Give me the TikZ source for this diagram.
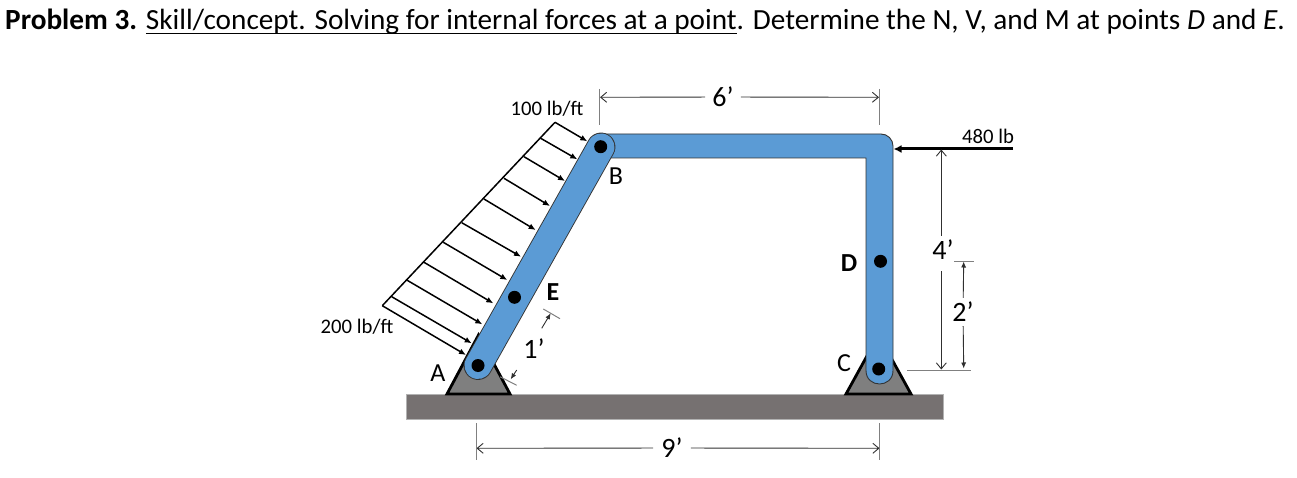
\documentclass[tikz,border=0pt]{standalone}
\usepackage{fontspec}
\usepackage{tikz}
\usetikzlibrary{arrows.meta}
\setmainfont{Carlito}
\definecolor{barblue}{HTML}{5B9BD5}
\definecolor{groundgray}{HTML}{767171}
\definecolor{supportgray}{HTML}{7F7F7F}
\definecolor{dimgray}{HTML}{303030}
\newcommand{\ruledtext}[1]{\setbox0=\hbox{#1}\rlap{\rule[-4.2pt]{\wd0}{1.3pt}}\box0}
\tikzstyle{barshape}=[draw=black!80, line width=.9pt, fill=barblue]
\tikzstyle{barline}=[draw=black!80, line width=.9pt, double=barblue, double distance=27pt, line cap=round]
\tikzstyle{support}=[draw=black, line width=2.8pt, fill=supportgray, line join=miter]
\tikzstyle{pinpoint}=[circle, fill=black, inner sep=0pt, minimum size=13pt]
\tikzstyle{loadarrow}=[draw=black, line width=1.5pt, -{Latex[length=7pt,width=6pt]}]
\tikzstyle{dimline}=[draw=dimgray, line width=.9pt, -{Straight Barb[length=6pt,width=10pt]}]
\tikzstyle{dimsmall}=[draw=dimgray, line width=.9pt, -{Latex[length=6pt,width=5pt]}]
\tikzstyle{dimtick}=[draw=gray, line width=1pt]
\tikzstyle{lbl}=[inner sep=0pt, font=\fontsize{20.7}{23}\selectfont]
\tikzstyle{letter}=[inner sep=0pt, font=\fontsize{26}{28}\selectfont]
\tikzstyle{dimtext}=[inner sep=0pt, font=\fontsize{28}{30}\selectfont]
\begin{document}
\begin{tikzpicture}[x=1pt, y=-1pt]
          \useasboundingbox (0,0) rectangle (1297,478);
          \node[anchor=base west, inner sep=0pt, font=\fontsize{29.25}{32}\selectfont] (title) at (5,30)
            {\textbf{Problem 3.} \ruledtext{Skill/concept. Solving for internal forces at a point}. Determine the N, V, and M at points \emph{D} and \emph{E}.};
          % ground and supports
          \node[draw=gray!60, fill=groundgray, inner sep=0pt, minimum width=537pt, minimum height=25pt] (ground) at (674.5,406.5){};
          \draw[support] (447,394) -- (478.5,335) -- (510,394) -- cycle;
          \draw[support] (846,394) -- (878.5,335) -- (911,394) -- cycle;
          % frame
          \draw[barshape] (601,134) [rounded corners=12pt] -- (893,134) [sharp corners] -- (893,370.5)
            .. controls (893,388.5) and (866,388.5) .. (866,370.5) -- (866,158) -- (601,158) -- cycle;
          \coordinate (endA) at (478,365.5);
          \coordinate (endB) at (601,147);
          \draw[barline] (endA) -- (endB);
          \node[pinpoint] (pinA) at (478,365.5){};
          \node[pinpoint] (pinB) at (600.7,146.7){};
          \node[pinpoint] (pinC) at (878.7,369){};
          \node[pinpoint] (pinD) at (880.5,261.3){};
          \node[pinpoint] (pinE) at (514.5,297.3){};
          % distributed load
          \coordinate (tail0) at (555,122.3);
          \coordinate (tail1) at (540.7,138.3);
          \coordinate (tail2) at (524,156.7);
          \coordinate (tail3) at (504,178.3);
          \coordinate (tail4) at (484,199);
          \coordinate (tail5) at (461.7,222.7);
          \coordinate (tail6) at (443.3,242.3);
          \coordinate (tail7) at (424,262.3);
          \coordinate (tail8) at (406.7,280);
          \coordinate (tail9) at (391.7,296.7);
          \coordinate (tail10) at (382.3,305.7);
          \coordinate (tip0) at (587.3,141.3);
          \coordinate (tip1) at (577.3,159.3);
          \coordinate (tip2) at (565,181);
          \coordinate (tip3) at (550,206);
          \coordinate (tip4) at (535.7,230);
          \coordinate (tip5) at (521,256.7);
          \coordinate (tip6) at (507.3,280);
          \coordinate (tip7) at (493.3,303.3);
          \coordinate (tip8) at (482.3,324.3);
          \coordinate (tip9) at (471.7,343.3);
          \coordinate (tip10) at (466,355);
          \draw[draw=black, line width=1.5pt, line join=round] (tail0) -- (tail10);
          \draw[loadarrow] (tail0) -- (tip0);
          \draw[loadarrow] (tail1) -- (tip1);
          \draw[loadarrow] (tail2) -- (tip2);
          \draw[loadarrow] (tail3) -- (tip3);
          \draw[loadarrow] (tail4) -- (tip4);
          \draw[loadarrow] (tail5) -- (tip5);
          \draw[loadarrow] (tail6) -- (tip6);
          \draw[loadarrow] (tail7) -- (tip7);
          \draw[loadarrow] (tail8) -- (tip8);
          \draw[loadarrow] (tail9) -- (tip9);
          \draw[loadarrow] (tail10) -- (tip10);
          % point load
          \coordinate (forceTail) at (1013,149);
          \coordinate (forceTip) at (893.5,149);
          \draw[draw=black, line width=3pt, -{Latex[length=8pt,width=8pt]}] (forceTail) -- (forceTip);
          % labels
          \node[lbl] (load100) at (547,109){100 lb/ft};
          \node[lbl] (load200) at (357,327){200 lb/ft};
          \node[lbl] (force480) at (988,136){480 lb};
          \node[letter] (labA) at (438,373){A};
          \node[letter] (labB) at (616,176){B};
          \node[letter] (labC) at (844,363){C};
          \node[letter, font=\fontsize{26}{28}\selectfont\bfseries] (labD) at (849,263){D};
          \node[letter, font=\fontsize{26}{28}\selectfont\bfseries] (labE) at (553,292){E};
          % dimension 6'
          \node[dimtext, inner xsep=7pt] (dim6) at (723,97){6’};
          \coordinate (dim6a) at (600,97.3);
          \coordinate (dim6b) at (879,97.3);
          \draw[dimline] (dim6) -- (dim6a);
          \draw[dimline] (dim6) -- (dim6b);
          \coordinate (ext6a) at (599.7,89);
          \coordinate (ext6b) at (599.7,124.6);
          \coordinate (ext6c) at (879.3,89);
          \coordinate (ext6d) at (879.3,124.6);
          \draw[dimtick] (ext6a) -- (ext6b);
          \draw[dimtick] (ext6c) -- (ext6d);
          % dimension 9'
          \node[dimtext, inner xsep=8pt] (dim9) at (672,448){9’};
          \coordinate (dim9a) at (476.5,448.3);
          \coordinate (dim9b) at (879.5,448.3);
          \draw[dimline] (dim9) -- (dim9a);
          \draw[dimline] (dim9) -- (dim9b);
          \coordinate (ext9a) at (476.3,423);
          \coordinate (ext9b) at (476.3,460);
          \coordinate (ext9c) at (879.7,423);
          \coordinate (ext9d) at (879.7,460);
          \draw[dimtick] (ext9a) -- (ext9b);
          \draw[dimtick] (ext9c) -- (ext9d);
          % dimension 4'
          \node[dimtext] (dim4) at (943,250){4’};
          \coordinate (gap4a) at (941.3,236);
          \coordinate (gap4b) at (941.3,271);
          \coordinate (dim4a) at (941.3,149.5);
          \coordinate (dim4b) at (941.3,369.5);
          \draw[dimline] (gap4a) -- (dim4a);
          \draw[dimline] (gap4b) -- (dim4b);
          \coordinate (ext4a) at (907.3,370);
          \coordinate (ext4b) at (970.7,370);
          \draw[dimtick] (ext4a) -- (ext4b);
          % dimension 2'
          \node[dimtext, inner ysep=4pt] (dim2) at (963,312){2’};
          \coordinate (dim2a) at (963.7,261.5);
          \coordinate (dim2b) at (963.7,368.5);
          \draw[dimsmall] (dim2) -- (dim2a);
          \draw[dimsmall] (dim2) -- (dim2b);
          \coordinate (ext2a) at (954.3,261.3);
          \coordinate (ext2b) at (973.7,261.3);
          \draw[dimtick] (ext2a) -- (ext2b);
          % dimension 1'
          \node[dimtext] (dim1) at (534,349){1’};
          \coordinate (dim1a) at (541.7,328.3);
          \coordinate (dim1b) at (550.7,313.3);
          \coordinate (dim1c) at (516.7,370);
          \coordinate (dim1d) at (510.7,379.3);
          \draw[dimsmall] (dim1a) -- (dim1b);
          \draw[dimsmall] (dim1c) -- (dim1d);
          \coordinate (ext1a) at (543.3,309);
          \coordinate (ext1b) at (560,318.7);
          \coordinate (ext1c) at (500,376.7);
          \coordinate (ext1d) at (516.7,385.3);
          \draw[dimtick] (ext1a) -- (ext1b);
          \draw[dimtick] (ext1c) -- (ext1d);
        \end{tikzpicture}
\end{document}
